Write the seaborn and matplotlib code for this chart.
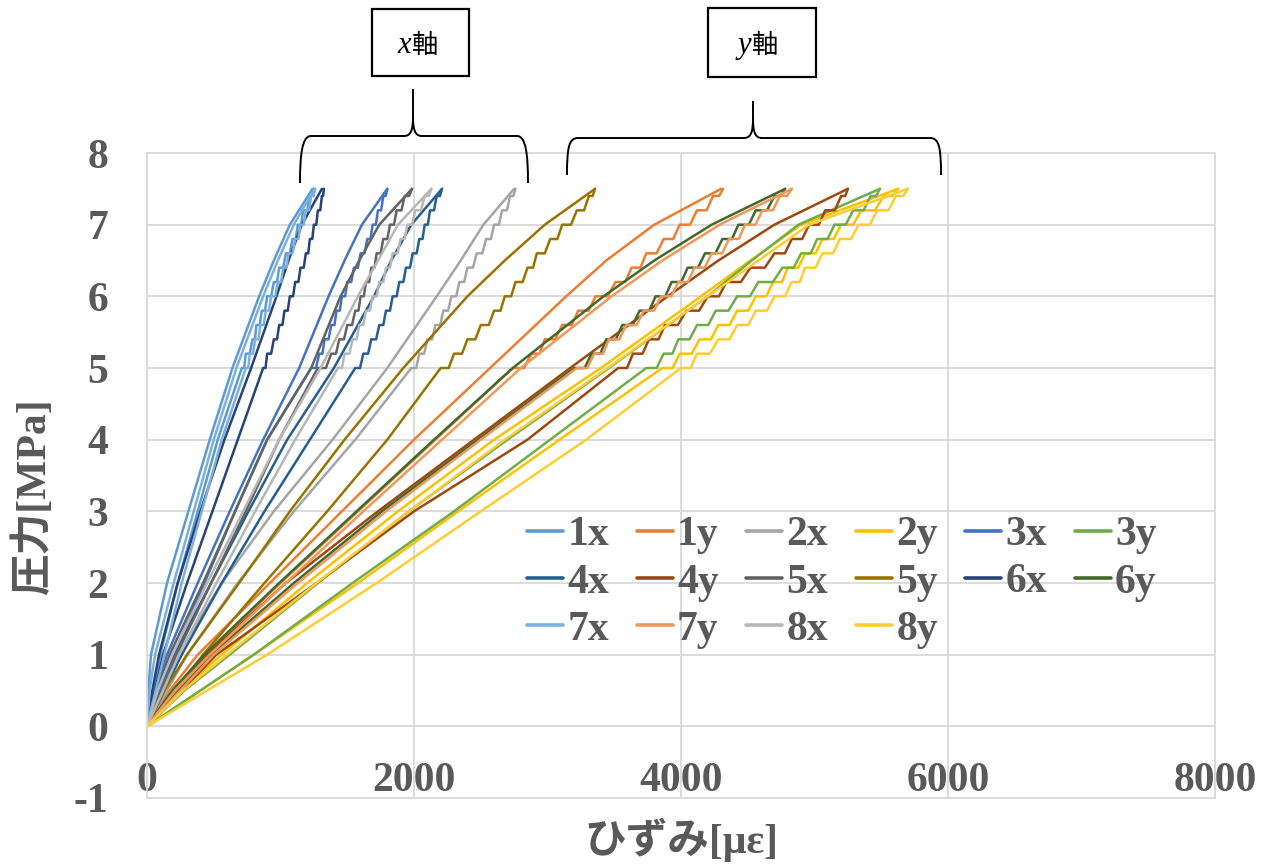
import matplotlib
matplotlib.use("Agg")
import matplotlib.pyplot as plt
import matplotlib.transforms as mtransforms
import numpy as np
import pandas as pd
import seaborn as sns
from matplotlib.path import Path
from matplotlib.patches import PathPatch, Rectangle
from matplotlib.lines import Line2D

# ---------------- data ----------------
SERIES = ["1x", "1y", "2x", "2y", "3x", "3y", "4x", "4y",
          "5x", "5y", "6x", "6y", "7x", "7y", "8x", "8y"]
COLORS = ["#5B9BD5", "#ED7D31", "#A5A5A5", "#FFC000", "#4472C4", "#70AD47",
          "#255E91", "#9E480E", "#636363", "#997300", "#264478", "#43682B",
          "#7CAFDD", "#F1975A", "#B7B7B7", "#FFCD33"]

# stress levels [MPa]
LEVELS_A = [0, 0.5, 1, 2, 3, 4, 5, 6, 6.5, 7, 7.5]     # smooth branch
LEVELS_LO = [0, 1, 2, 3, 4, 5]                          # lower part of stepped branch
LEVELS_HI = [5.0, 5.0, 5.2, 5.2, 5.4, 5.4, 5.6, 5.6, 5.8, 5.8, 6.0, 6.0, 6.2, 6.2,
             6.4, 6.4, 6.6, 6.6, 6.8, 6.8, 7.0, 7.0, 7.2, 7.2, 7.4, 7.4, 7.5]

# strain [micro-strain]: (smooth branch, stepped branch low, stepped branch high)
S1X = ([0, 10, 30, 150, 310, 470, 640, 840, 950, 1070, 1240],
       [0, 100, 230, 380, 530, 710],
       [710, 728, 740, 770, 790, 808, 820, 844, 860, 884, 900, 930, 950, 974,
        990, 1020, 1040, 1070, 1090, 1114, 1130, 1154, 1170, 1200, 1220, 1235, 1245])
S1Y = ([0, 170, 380, 920, 1460, 2000, 2570, 3140, 3440, 3800, 4300],
       [0, 440, 1000, 1580, 2160, 2740],
       [2740, 2824, 2880, 2940, 2980, 3058, 3110, 3182, 3230, 3308, 3360, 3450, 3510, 3582,
        3630, 3696, 3740, 3818, 3870, 3942, 3990, 4068, 4120, 4192, 4240, 4285, 4315])
S2X = ([0, 100, 230, 560, 950, 1390, 1800, 2170, 2350, 2520, 2750],
       [0, 300, 680, 1100, 1560, 1980],
       [1980, 2016, 2040, 2076, 2100, 2136, 2160, 2196, 2220, 2256, 2280, 2316, 2340, 2376,
        2400, 2442, 2470, 2512, 2540, 2576, 2600, 2636, 2660, 2696, 2720, 2744, 2760])
S2Y = ([0, 250, 560, 1200, 1880, 2600, 3400, 4150, 4520, 4900, 5625],
       [0, 800, 1580, 2330, 3090, 3860],
       [3860, 3938, 3990, 4080, 4140, 4224, 4280, 4364, 4420, 4504, 4560, 4638, 4690, 4756,
        4800, 4878, 4930, 5008, 5060, 5144, 5200, 5290, 5350, 5452, 5520, 5583, 5625])
S3X = ([0, 60, 150, 380, 620, 870, 1140, 1360, 1480, 1610, 1800],
       [0, 200, 430, 660, 900, 1230],
       [1230, 1266, 1290, 1314, 1330, 1360, 1380, 1404, 1420, 1444, 1460, 1484, 1500, 1530,
        1550, 1580, 1600, 1630, 1650, 1674, 1690, 1714, 1730, 1754, 1770, 1788, 1800])
S3Y = ([0, 280, 620, 1280, 1960, 2700, 3460, 4200, 4530, 4880, 5490],
       [0, 800, 1540, 2300, 3020, 3740],
       [3740, 3818, 3870, 3936, 3980, 4064, 4120, 4204, 4260, 4356, 4420, 4516, 4580, 4688,
        4760, 4844, 4900, 4972, 5020, 5098, 5150, 5234, 5290, 5368, 5420, 5462, 5490])
S4X = ([0, 80, 200, 480, 760, 1050, 1400, 1700, 1830, 1980, 2210],
       [0, 260, 560, 880, 1220, 1560],
       [1560, 1596, 1620, 1656, 1680, 1716, 1740, 1770, 1790, 1820, 1840, 1870, 1890, 1920,
        1940, 1970, 1990, 2020, 2040, 2064, 2080, 2104, 2120, 2150, 2170, 2194, 2210])
S4Y = ([0, 200, 450, 1040, 1730, 2450, 3170, 3900, 4280, 4700, 5250],
       [0, 520, 1270, 2000, 2850, 3530],
       [3530, 3596, 3640, 3712, 3760, 3832, 3880, 3976, 4040, 4136, 4200, 4284, 4340, 4448,
        4520, 4628, 4700, 4778, 4830, 4908, 4960, 5032, 5080, 5152, 5200, 5230, 5250])
S5X = ([0, 70, 170, 420, 660, 900, 1230, 1450, 1590, 1740, 1985],
       [0, 220, 480, 740, 990, 1280],
       [1280, 1340, 1380, 1416, 1440, 1476, 1500, 1536, 1560, 1584, 1600, 1624, 1640, 1664,
        1680, 1704, 1720, 1750, 1770, 1800, 1820, 1850, 1870, 1906, 1930, 1963, 1985])
S5Y = ([0, 130, 300, 690, 1070, 1480, 1920, 2400, 2680, 2980, 3356],
       [0, 420, 880, 1350, 1800, 2200],
       [2200, 2260, 2300, 2360, 2400, 2460, 2500, 2560, 2600, 2648, 2680, 2728, 2760, 2814,
        2850, 2892, 2920, 2980, 3020, 3074, 3110, 3176, 3220, 3274, 3310, 3338, 3356])
S6X = ([0, 40, 90, 230, 400, 580, 780, 970, 1060, 1160, 1310],
       [0, 120, 300, 490, 680, 870],
       [870, 888, 900, 930, 950, 974, 990, 1014, 1030, 1054, 1070, 1094, 1110, 1134,
        1150, 1174, 1190, 1208, 1220, 1238, 1250, 1268, 1280, 1298, 1310, 1319, 1325])
S6Y = ([0, 190, 430, 990, 1570, 2150, 2740, 3420, 3800, 4230, 4780],
       [0, 480, 1100, 1760, 2480, 3200],
       [3200, 3278, 3330, 3396, 3440, 3512, 3560, 3638, 3690, 3762, 3810, 3882, 3930, 4002,
        4050, 4128, 4180, 4258, 4310, 4382, 4430, 4508, 4560, 4644, 4700, 4748, 4780])
S7X = ([0, 20, 60, 200, 350, 500, 670, 870, 980, 1100, 1255],
       [0, 130, 260, 410, 560, 740],
       [740, 758, 770, 794, 810, 834, 850, 874, 890, 914, 930, 960, 980, 1004,
        1020, 1044, 1060, 1090, 1110, 1134, 1150, 1174, 1190, 1214, 1230, 1248, 1260])
S7Y = ([0, 210, 470, 1040, 1620, 2210, 2800, 3480, 3860, 4290, 4830],
       [0, 500, 1130, 1790, 2500, 3220],
       [3220, 3298, 3350, 3416, 3460, 3538, 3590, 3668, 3720, 3798, 3850, 3928, 3980, 4052,
        4100, 4178, 4230, 4308, 4360, 4432, 4480, 4558, 4610, 4688, 4740, 4794, 4830])
S8X = ([0, 80, 190, 450, 720, 990, 1300, 1580, 1730, 1880, 2130],
       [0, 240, 520, 810, 1110, 1430],
       [1430, 1460, 1480, 1516, 1540, 1570, 1590, 1620, 1640, 1670, 1690, 1720, 1740, 1770,
        1790, 1820, 1840, 1876, 1900, 1930, 1950, 1986, 2010, 2052, 2080, 2110, 2130])
S8Y = ([0, 270, 600, 1270, 1960, 2680, 3450, 4200, 4580, 4960, 5700],
       [0, 900, 1720, 2500, 3290, 4000],
       [4000, 4072, 4120, 4216, 4280, 4364, 4420, 4504, 4560, 4644, 4700, 4778, 4830, 4890,
        4930, 5008, 5060, 5138, 5190, 5274, 5330, 5414, 5470, 5554, 5610, 5664, 5700])

DATA = {"1x": S1X, "1y": S1Y, "2x": S2X, "2y": S2Y, "3x": S3X, "3y": S3Y,
        "4x": S4X, "4y": S4Y, "5x": S5X, "5y": S5Y, "6x": S6X, "6y": S6Y,
        "7x": S7X, "7y": S7Y, "8x": S8X, "8y": S8Y}

XTICKS = [0, 2000, 4000, 6000, 8000]
YTICKS = [-1, 0, 1, 2, 3, 4, 5, 6, 7, 8]
LEGEND_ORDER = ["1x", "4x", "7x", "1y", "4y", "7y", "2x", "5x", "8x",
                "2y", "5y", "8y", "3x", "6x", "3y", "6y"]

XLABEL = "ひずみ[με]"
YLABEL = "圧力[MPa]"

# ---------------- build table ----------------
rows = []
for name in SERIES:
    a, lo, hi = DATA[name]
    for s, p in zip(a, LEVELS_A):
        rows.append((name, name + "A", s, p))
    for s, p in zip(lo, LEVELS_LO):
        rows.append((name, name + "B", s, p))
    for s, p in zip(hi, LEVELS_HI):
        rows.append((name, name + "B", s, p))
df = pd.DataFrame(rows, columns=["series", "seg", "strain", "stress"])
pal = dict(zip(SERIES, COLORS))

# ---------------- figure ----------------
sns.set_theme(style="white")
plt.rcParams["font.family"] = ["Liberation Serif", "Noto Sans CJK JP", "DejaVu Sans"]
TC = "#595959"
GRID = "#D9D9D9"
W, H = 1270, 866

fig = plt.figure(figsize=(12.7, 8.66), dpi=100)
ax = fig.add_axes([147 / W, 1 - 798 / H, (1215 - 147) / W, (798 - 153) / H])

sns.lineplot(data=df, x="strain", y="stress", hue="series", hue_order=SERIES,
             units="seg", estimator=None, sort=False, palette=pal, legend=False,
             linewidth=1.8, ax=ax)

ax.set_xlim(0, 8000)
ax.set_ylim(-1, 8)
ax.set_xticks(XTICKS)
ax.set_yticks(YTICKS)
ax.set_xticklabels([str(v) for v in XTICKS])
ax.set_yticklabels([str(v) for v in YTICKS])
ax.grid(True, color=GRID, linewidth=1.3)
ax.set_axisbelow(True)
for sp in ax.spines.values():
    sp.set_color(GRID)
    sp.set_linewidth(1.3)
ax.set_xlabel("")
ax.set_ylabel("")
ax.tick_params(axis="both", length=0, labelsize=30, labelcolor=TC)
ax.tick_params(axis="x", pad=-26)
ax.tick_params(axis="y", pad=28)
for lab in ax.get_xticklabels() + ax.get_yticklabels():
    lab.set_fontweight("bold")
    lab.set_fontfamily("Liberation Serif")

# axis titles
fig.text(681 / W, 1 - 840 / H, XLABEL, ha="center", va="center", fontsize=30,
         fontweight="bold", color=TC)
fig.text(33 / W, 1 - 497 / H, YLABEL, ha="center", va="center", fontsize=30,
         fontweight="bold", color=TC, rotation=90)

# legend
handles = [Line2D([0], [0], color=pal[n], lw=2.6) for n in LEGEND_ORDER]
leg = ax.legend(handles, LEGEND_ORDER, ncol=6, loc="upper left",
                bbox_to_anchor=(527 / W, 1 - 516 / H), bbox_transform=fig.transFigure,
                frameon=False, borderpad=0, borderaxespad=0,
                handlelength=0.87, handletextpad=0.1, columnspacing=0.66,
                labelspacing=0.22,
                prop={"family": "Liberation Serif", "weight": "bold", "size": 30})
for t in leg.get_texts():
    t.set_color(TC)

# ---------------- annotations (boxes and braces) ----------------
pix = mtransforms.Affine2D().scale(1 / W, -1 / H).translate(0, 1) + fig.transFigure


def box(x0, y0, x1, y1):
    r = Rectangle((x0, y0), x1 - x0, y1 - y0, transform=pix, fill=False,
                  edgecolor="black", linewidth=1.6)
    fig.add_artist(r)


def brace(xl, xr, xm, yh, ys, ye):
    verts = [
        (xl, ye), (xl, ye - 28), (xl + 2, yh), (xl + 11, yh),
        (xm - 9, yh),
        (xm - 2, yh), (xm, yh - 6), (xm, yh - 20),
        (xm, ys),
        (xm, yh - 20),
        (xm, yh - 6), (xm + 2, yh), (xm + 9, yh),
        (xr - 11, yh),
        (xr - 2, yh), (xr, ye - 28), (xr, ye),
    ]
    codes = [Path.MOVETO, Path.CURVE4, Path.CURVE4, Path.CURVE4,
             Path.LINETO,
             Path.CURVE4, Path.CURVE4, Path.CURVE4,
             Path.LINETO,
             Path.MOVETO,
             Path.CURVE4, Path.CURVE4, Path.CURVE4,
             Path.LINETO,
             Path.CURVE4, Path.CURVE4, Path.CURVE4]
    p = PathPatch(Path(verts, codes), transform=pix, fill=False,
                  edgecolor="black", linewidth=1.4)
    fig.add_artist(p)


box(372, 9, 469, 76)
box(708, 8, 816, 77)
brace(300, 528, 413, 136, 89, 183)
brace(567, 941, 753, 138, 101, 175)

for xc, letter in [(411, "x"), (751, "y")]:
    fig.text(xc / W, 1 - 53 / H, letter, ha="right", va="baseline",
             fontsize=22, style="italic", family="Liberation Serif", color="black")
    fig.text((xc + 1) / W, 1 - 53 / H, "軸", ha="left", va="baseline",
             fontsize=19, family="Noto Sans CJK JP", color="black")

fig.savefig("out.png", dpi=100)
